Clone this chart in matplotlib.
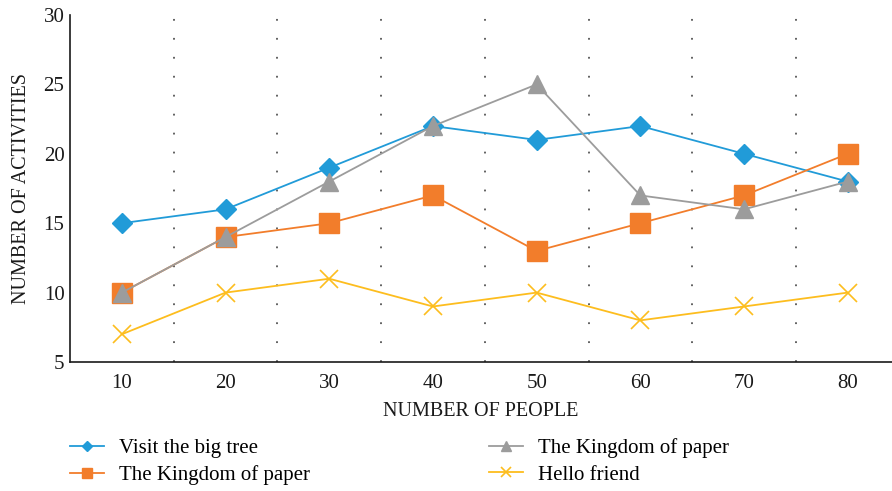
import matplotlib
matplotlib.use("Agg")
import matplotlib.pyplot as plt
import numpy as np

people = [10, 20, 30, 40, 50, 60, 70, 80]
visit_big_tree = [15, 16, 19, 22, 21, 22, 20, 18]
kingdom_orange = [10, 14, 15, 17, 13, 15, 17, 20]
kingdom_gray = [10, 14, 18, 22, 25, 17, 16, 18]
hello_friend = [7, 10, 11, 9, 10, 8, 9, 10]
y_ticks = [5, 10, 15, 20, 25, 30]

plt.rcParams['font.family'] = ['Liberation Serif', 'DejaVu Serif']

fig = plt.figure(figsize=(8.92, 4.91), dpi=100)
W, H = 892, 491
ax = fig.add_axes([70 / W, 1 - 362 / H, (892 - 70) / W, (362 - 15) / H])

x = np.arange(1, len(people) + 1)
step_px = 103.7
ax.set_xlim(0.5, 0.5 + (892 - 70) / step_px)
ax.set_ylim(5, 30)

# dotted separators between categories
for b in np.arange(1.5, len(people), 1.0):
    ax.axvline(b, color='#555555', linestyle=(0, (1, 9.5)), linewidth=1.3, zorder=0)

ax.plot(x, visit_big_tree, color='#219BD8', lw=1.3, marker='D', ms=10,
        label='Visit the big tree')
ax.plot(x, kingdom_orange, color='#F27D2B', lw=1.3, marker='s', ms=14,
        label='The Kingdom of paper')
ax.plot(x, kingdom_gray, color='#9C9C9C', lw=1.3, marker='^', ms=13,
        label='The Kingdom of paper')
ax.plot(x, hello_friend, color='#FDBD1E', lw=1.3, marker='x', ms=13, mew=1.2,
        label='Hello friend')

ax.set_xticks(x)
ax.set_xticklabels([str(p) for p in people])
ax.set_yticks(y_ticks)
ax.tick_params(axis='both', length=0, labelsize=15, colors='#1a1a1a')
ax.tick_params(axis='x', pad=9)
ax.tick_params(axis='y', pad=4)

for side in ('top', 'right'):
    ax.spines[side].set_visible(False)
for side in ('left', 'bottom'):
    ax.spines[side].set_color('#1a1a1a')
    ax.spines[side].set_linewidth(1.2)

ax.set_xlabel('NUMBER OF PEOPLE', fontsize=14.5, color='#1a1a1a', labelpad=6)
ax.set_ylabel('NUMBER OF ACTIVITIES', fontsize=14.5, color='#1a1a1a', labelpad=9)

handles, labels = ax.get_legend_handles_labels()
leg = fig.legend(handles, labels, ncol=2, loc='upper left',
                 bbox_to_anchor=(70 / W, 1 - 438 / H), frameon=False,
                 fontsize=15, markerscale=0.55, handlelength=1.63,
                 columnspacing=8.6, labelspacing=0.35, handletextpad=0.72,
                 borderpad=0, borderaxespad=0)

fig.savefig('out.png', dpi=100)
